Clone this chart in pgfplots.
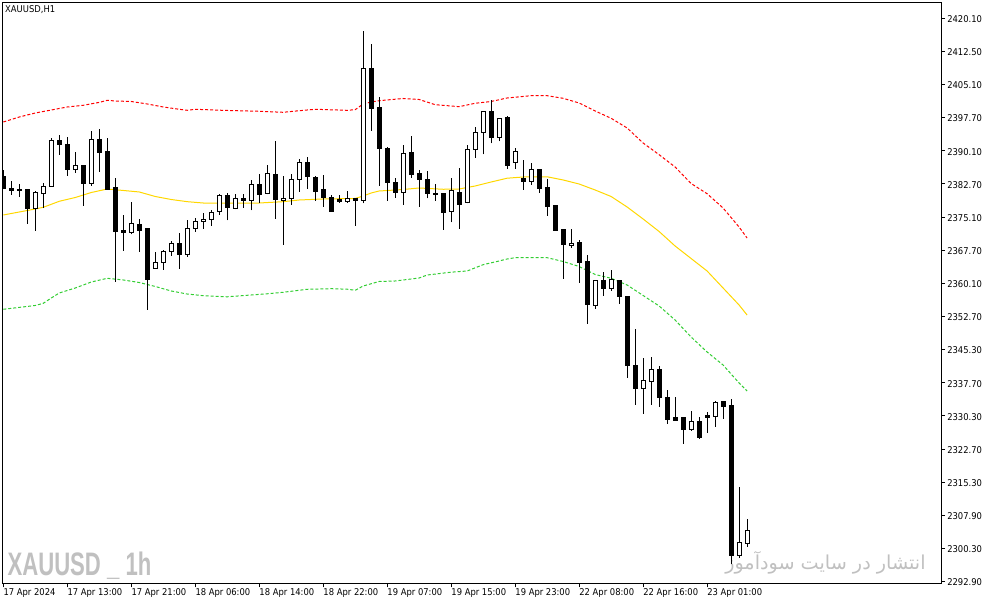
\documentclass[border=0pt]{standalone}
\usepackage{pgfplots}
\pgfplotsset{compat=1.18}
\usepackage{pgfplotstable}
\usepackage{fontspec}
\setmainfont{DejaVu Sans}[FakeStretch=0.9]
\newfontfamily\wmfont{Liberation Sans}[UprightFont=* Bold, FakeStretch=0.68]
\newfontfamily\arabicfont[Script=Arabic]{DejaVu Sans}
\TeXXeTstate=1
\definecolor{bbup}{RGB}{255,0,0}
\definecolor{bbmid}{RGB}{255,215,0}
\definecolor{bblo}{RGB}{50,205,50}
\definecolor{wm}{RGB}{192,192,192}

\pgfplotstableread{
i O H L C
0 2384.33 2385.84 2381.50 2381.71
1 2381.71 2383.36 2380.20 2381.17
2 2381.55 2382.68 2379.82 2381.17
3 2381.55 2381.55 2373.65 2377.04
4 2377.04 2381.17 2372.07 2380.65
5 2380.49 2382.91 2377.26 2382.01
6 2382.07 2393.00 2382.07 2392.39
7 2392.39 2393.75 2389.30 2391.56
8 2391.71 2393.30 2384.56 2385.91
9 2385.91 2389.91 2385.23 2386.75
10 2386.97 2386.97 2377.78 2382.75
11 2382.84 2394.65 2382.30 2392.78
12 2392.84 2395.10 2385.46 2389.75
13 2390.13 2393.07 2381.55 2381.55
14 2381.78 2383.97 2360.62 2371.91
15 2372.07 2375.68 2367.62 2371.69
16 2371.78 2378.62 2371.33 2373.81
17 2373.58 2374.78 2367.40 2372.14
18 2372.52 2372.75 2354.23 2361.07
19 2363.65 2367.26 2363.65 2365.00
20 2365.00 2367.78 2363.33 2367.49
21 2367.49 2369.81 2366.49 2369.29
22 2369.29 2371.62 2363.56 2366.72
23 2366.81 2374.55 2366.27 2372.68
24 2372.68 2374.94 2371.91 2374.26
25 2374.26 2376.07 2372.59 2374.71
26 2374.71 2376.81 2373.27 2376.29
27 2376.52 2380.42 2375.75 2380.13
28 2380.13 2380.58 2374.49 2377.33
29 2377.20 2380.36 2376.97 2379.45
30 2379.45 2380.42 2377.33 2378.91
31 2379.00 2383.59 2376.74 2382.62
32 2382.62 2384.94 2378.32 2380.36
33 2380.58 2386.97 2380.36 2385.10
34 2384.87 2392.39 2374.85 2379.14
35 2379.00 2384.49 2368.91 2379.45
36 2379.45 2384.94 2378.01 2383.74
37 2383.74 2388.26 2380.94 2387.58
38 2387.58 2388.71 2381.62 2384.33
39 2384.20 2384.42 2378.91 2380.94
40 2381.33 2384.65 2377.56 2379.59
41 2379.68 2380.13 2376.43 2376.43
42 2379.14 2380.13 2378.46 2378.78
43 2378.78 2381.10 2378.46 2379.45
44 2379.45 2379.45 2373.27 2379.00
45 2379.00 2417.23 2378.32 2408.81
46 2408.81 2414.23 2394.72 2399.78
47 2400.00 2402.39 2382.30 2390.65
48 2390.74 2390.97 2378.91 2382.98
49 2383.07 2383.97 2379.59 2380.81
50 2380.81 2391.49 2378.01 2389.61
51 2389.68 2393.52 2384.11 2384.78
52 2384.94 2385.84 2377.56 2383.74
53 2383.74 2385.62 2379.45 2380.49
54 2380.58 2382.68 2378.91 2380.27
55 2380.58 2380.72 2372.36 2376.20
56 2376.52 2383.97 2374.03 2381.10
57 2380.81 2386.23 2372.59 2378.10
58 2378.46 2391.42 2378.32 2390.52
59 2390.52 2395.62 2388.62 2394.36
60 2394.36 2399.10 2389.39 2399.10
61 2399.10 2401.65 2391.87 2393.23
62 2393.23 2397.52 2392.32 2397.52
63 2397.74 2398.04 2386.07 2386.97
64 2387.49 2390.88 2386.14 2390.13
65 2383.81 2388.10 2381.33 2383.20
66 2383.20 2387.36 2382.52 2386.00
67 2386.00 2386.00 2380.72 2381.62
68 2381.78 2383.74 2375.53 2377.56
69 2377.72 2377.72 2372.14 2372.14
70 2372.30 2372.30 2361.30 2368.98
71 2368.75 2372.52 2368.30 2369.29
72 2369.36 2370.04 2360.40 2364.91
73 2365.07 2366.65 2351.14 2355.43
74 2355.29 2360.78 2354.53 2360.78
75 2360.78 2362.74 2357.46 2359.04
76 2359.04 2363.26 2358.59 2361.01
77 2360.78 2361.01 2355.65 2357.23
78 2357.17 2357.17 2338.95 2341.65
79 2341.59 2349.94 2332.85 2336.46
80 2336.46 2343.33 2330.82 2338.20
81 2338.13 2343.55 2332.85 2340.84
82 2340.84 2341.65 2332.40 2334.43
83 2334.52 2336.17 2328.56 2329.46
84 2329.85 2334.59 2329.23 2329.39
85 2329.85 2329.85 2324.04 2327.20
86 2327.20 2331.43 2326.98 2329.10
87 2329.10 2330.07 2325.17 2325.40
88 2330.30 2331.20 2326.53 2329.85
89 2330.14 2333.68 2327.88 2333.39
90 2333.53 2333.68 2329.69 2332.40
91 2332.56 2334.14 2296.81 2298.75
92 2298.75 2314.20 2298.30 2301.78
93 2301.46 2307.04 2300.79 2304.40
}\candles

\pgfplotstableread{
i v
0 2396.68
2 2397.81
4 2398.71
6 2399.39
8 2400.07
10 2400.45
12 2401.11
13 2401.58
14 2401.42
16 2401.31
18 2400.75
20 2400.07
22 2399.55
23 2399.32
24 2399.55
28 2399.28
32 2399.10
35 2398.87
37 2399.23
39 2399.55
43 2399.32
44 2399.46
45 2400.75
46 2401.20
47 2401.49
50 2401.99
52 2401.76
54 2400.59
57 2400.14
59 2400.91
61 2401.31
63 2402.10
66 2402.62
68 2402.62
70 2402.03
72 2400.97
74 2399.17
76 2397.52
78 2395.33
80 2391.94
82 2389.30
84 2386.52
86 2382.80
88 2380.49
90 2377.26
92 2372.97
93 2370.49
}\bbupper

\pgfplotstableread{
i v
0 2375.68
2 2376.36
4 2377.04
5 2377.42
7 2378.78
9 2379.63
11 2380.76
13 2381.55
15 2381.22
17 2380.88
19 2379.86
21 2379.18
23 2378.69
25 2378.39
28 2378.39
32 2378.39
35 2378.69
37 2379.07
40 2379.30
44 2379.41
45 2379.97
46 2380.65
47 2381.10
50 2381.44
52 2381.78
55 2381.49
57 2381.55
59 2382.23
61 2383.13
63 2383.99
65 2384.26
68 2384.31
70 2383.59
72 2382.68
74 2381.33
76 2379.86
78 2377.49
80 2374.78
82 2371.96
84 2368.68
86 2365.86
88 2363.04
90 2359.20
92 2355.36
93 2353.10
}\bbmiddle

\pgfplotstableread{
i v
0 2354.39
4 2355.25
5 2355.74
6 2356.94
7 2358.07
9 2359.20
11 2360.55
13 2361.39
15 2361.01
17 2360.44
19 2359.54
21 2358.52
23 2357.84
25 2357.46
28 2357.21
31 2357.62
33 2357.89
35 2358.23
38 2358.91
41 2359.04
43 2358.93
44 2358.68
45 2359.65
47 2360.67
49 2360.78
52 2361.46
53 2362.13
56 2362.77
58 2363.04
60 2364.46
62 2365.30
63 2365.75
64 2366.04
68 2366.04
70 2365.18
72 2364.05
74 2362.25
76 2361.39
78 2359.88
80 2357.51
82 2355.14
84 2351.97
86 2348.14
88 2344.75
90 2341.81
92 2337.75
93 2335.94
}\bblower

\begin{document}
\begin{tikzpicture}
\useasboundingbox (-2.025pt,-16.275pt) rectangle (738.225pt,437.475pt);
\begin{axis}[
  at={(0pt,0pt)}, anchor=south west,
  scale only axis, width=703.725pt, height=435.45pt,
  xmin=-0.075, xmax=117.25, ymin=2292.52, ymax=2423.62,
  axis line style={line width=0.75pt, black},
  xtick={0,8,16,24,32,40,48,56,64,72,80,88},
  xticklabels={17 Apr 2024,17 Apr 13:00,17 Apr 21:00,18 Apr 06:00,18 Apr 14:00,18 Apr 22:00,19 Apr 07:00,19 Apr 15:00,19 Apr 23:00,22 Apr 08:00,22 Apr 16:00,23 Apr 01:00},
  ytick={2420.10,2412.62,2405.13,2397.65,2390.17,2382.69,2375.20,2367.72,2360.24,2352.75,2345.27,2337.79,2330.30,2322.82,2315.34,2307.86,2300.37,2292.89},
  yticklabels={2420.10,2412.50,2405.10,2397.70,2390.10,2382.70,2375.10,2367.70,2360.10,2352.70,2345.30,2337.70,2330.30,2322.70,2315.30,2307.90,2300.30,2292.90},
  xtick pos=lower, ytick pos=right, yticklabel pos=right,
  tick align=outside, major tick length=3pt,
  tick style={black, line width=0.75pt},
  xticklabel style={anchor=north west, inner sep=0pt, yshift=-1.1pt, font=\fontsize{7}{8}\selectfont},
  yticklabel style={anchor=west, inner sep=0pt, xshift=1.5pt, yshift=-0.6pt, font=\fontsize{7}{8}\selectfont},
]
\node[anchor=base west, inner sep=0pt, text=wm, font=\wmfont\fontsize{24.4}{26}\selectfont] at (axis cs:0.5,2294.17) {XAUUSD \_ 1h};
\node[anchor=center, inner sep=0pt, text=wm, font=\fontsize{14.4}{16}\selectfont] at (axis cs:102.8,2297.1) {\arabicfont\beginR انتشار در سایت سودآموز\endR};
\node[anchor=west, inner sep=0pt, font=\fontsize{7}{8}\selectfont] at (axis cs:0.21,2421.97) {XAUUSD,H1};

\addplot[bbup, line width=0.75pt, dash pattern=on 2.25pt off 1.5pt] table[x=i,y=v] {\bbupper};
\addplot[bbmid, line width=0.75pt] table[x=i,y=v] {\bbmiddle};
\addplot[bblo, line width=0.75pt, dash pattern=on 2.25pt off 1.5pt] table[x=i,y=v] {\bblower};

\pgfplotstablegetrowsof{\candles}
\pgfmathtruncatemacro\nlast{\pgfplotsretval-1}
\pgfplotsforeachungrouped \k in {0,...,\nlast}{%
  \pgfplotstablegetelem{\k}{i}\of\candles \let\cI\pgfplotsretval
  \pgfplotstablegetelem{\k}{O}\of\candles \let\cO\pgfplotsretval
  \pgfplotstablegetelem{\k}{H}\of\candles \let\cH\pgfplotsretval
  \pgfplotstablegetelem{\k}{L}\of\candles \let\cL\pgfplotsretval
  \pgfplotstablegetelem{\k}{C}\of\candles \let\cC\pgfplotsretval
  \pgfmathsetmacro\xl{\cI-0.25}%
  \pgfmathsetmacro\xr{\cI+0.25}%
  \ifdim\cC pt<\cO pt \def\cfill{black}\else\def\cfill{white}\fi
  \edef\temp{%
    \noexpand\addplot[black, line width=0.75pt] coordinates {(\cI,\cL) (\cI,\cH)};
    \noexpand\addplot[draw=black, fill=\cfill, line width=0.75pt] coordinates {(\xl,\cO) (\xr,\cO) (\xr,\cC) (\xl,\cC) (\xl,\cO)};
  }%
  \temp
}
\end{axis}
\end{tikzpicture}
\end{document}
